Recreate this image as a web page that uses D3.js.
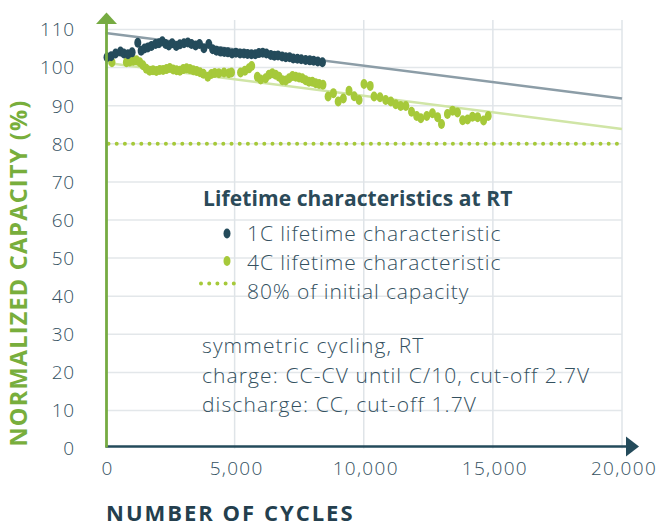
<!DOCTYPE html>
<html>
<head>
<meta charset="utf-8">
<script src="https://cdn.jsdelivr.net/npm/d3@7"></script>
<style>
  body { margin: 0; background: #fff; }
  svg text { font-family: "Open Sans", Lato, sans-serif; }
</style>
</head>
<body>
<div id="chart"></div>
<script>
// 1C cycling, dark markers
var cycles1C = [60, 220, 390, 580, 710, 870, 1030, 1250, 1380, 1510, 1640, 1780, 1940, 2070, 2200, 2330, 2450, 2580, 2740, 2880,
  3040, 3190, 3330, 3490, 3640, 3810, 4000, 4150, 4300, 4460, 4600, 4740, 4900, 5050, 5210, 5360, 5500, 5650, 5800, 5940,
  6090, 6230, 6400, 6540, 6680, 6840, 6980, 7130, 7270, 7430, 7580, 7750, 7910, 8060, 8220, 8400];
var capacity1C = [102.7, 103.0, 103.7, 104.2, 103.7, 103.5, 104.0, 106.5, 104.4, 105.0, 105.3, 105.7, 106.2, 106.4, 106.9, 106.2, 105.8, 106.4, 105.7, 106.1,
  106.4, 106.6, 106.2, 105.8, 106.2, 105.1, 106.2, 104.8, 104.4, 104.2, 104.1, 104.0, 103.7, 103.9, 103.7, 103.7, 103.6, 103.5, 103.5, 103.8,
  103.9, 103.7, 103.3, 103.1, 103.2, 102.9, 102.7, 102.7, 102.4, 102.3, 102.2, 102.0, 101.9, 101.8, 101.6, 101.4];

// 4C cycling, green markers
var cycles4C = [250, 810, 940, 1070, 1200, 1330, 1450, 1580, 1710, 1840, 1970, 2100, 2230, 2360, 2490, 2620, 2750, 2880, 3010, 3140,
  3270, 3400, 3530, 3660, 3790, 3960, 4100, 4230, 4390, 4590, 4780, 4880, 5230, 5400, 5555, 5660, 5880, 6010, 6200, 6330,
  6460, 6590, 6720, 6850, 6980, 7110, 7240, 7365, 7495, 7620, 7750, 7880, 8010, 8140, 8270, 8420, 8620, 8825, 9010, 9210,
  9430, 9630, 9820, 10010, 10250, 10400, 10630, 10850, 11050, 11240, 11430, 11630, 11850, 12050, 12210, 12440, 12660, 12860, 13010, 13240,
  13440, 13630, 13830, 14020, 14210, 14410, 14640, 14820];
var capacity4C = [101.4, 101.4, 101.6, 101.8, 101.9, 101.4, 100.6, 99.7, 99.2, 99.3, 99.1, 99.4, 99.4, 99.6, 99.9, 99.5, 99.3, 99.2, 99.6, 99.8,
  99.6, 99.3, 99.1, 98.8, 98.4, 97.6, 98.3, 98.6, 98.5, 98.7, 98.5, 98.7, 98.7, 99.2, 99.8, 100.4, 97.6, 96.9, 97.2, 98.1,
  98.5, 98.1, 97.6, 96.7, 96.6, 97.2, 97.8, 97.6, 97.4, 97.2, 96.7, 96.3, 96.3, 95.9, 95.7, 95.5, 92.4, 93.3, 91.1, 91.9,
  93.9, 92.5, 91.5, 95.7, 95.2, 92.4, 92.2, 91.5, 91.1, 90.4, 89.9, 89.9, 88.4, 87.3, 86.7, 87.3, 88.0, 87.0, 85.2, 87.8,
  88.7, 88.2, 86.2, 86.4, 87.1, 87.0, 86.1, 87.3];

// linear trends (start, end) at 0 and 20,000 cycles
var trendCycles = [0, 20000];
var trend1C = [109.1, 91.9];
var trend4C = [101.3, 83.9];
var limitLevel = 80;

var xTicks = [0, 5000, 10000, 15000, 20000];
var yTicks = [0, 10, 20, 30, 40, 50, 60, 70, 80, 90, 100, 110];

var legendTitle = 'Lifetime characteristics at RT';
var legendLabels = ['1C lifetime characteristic', '4C lifetime characteristic', '80% of initial capacity'];
var notes = ['symmetric cycling, RT', 'charge: CC-CV until C/10, cut-off 2.7V', 'discharge: CC, cut-off 1.7V'];

var width = 670, height = 526;
var navy = '#244b5b', green = '#a6c93a', axisGreen = '#76ab42', textCol = '#34515f';

var svg = d3.select('#chart').append('svg')
  .attr('width', width)
  .attr('height', height);

var xScale = d3.scaleLinear().domain([0, 20000]).range([105.5, 622]);
var yScale = d3.scaleLinear().domain([0, 110]).range([448.6, 29.5]);

// grid
svg.append('g').selectAll('line.h')
  .data(yTicks.filter(d => d > 0))
  .enter().append('line')
  .attr('x1', xScale(0)).attr('x2', xScale(20000))
  .attr('y1', d => yScale(d)).attr('y2', d => yScale(d))
  .attr('stroke', '#e3e7ea').attr('stroke-width', 1.5);

svg.append('g').selectAll('line.v')
  .data(xTicks.filter(d => d > 0))
  .enter().append('line')
  .attr('x1', d => xScale(d)).attr('x2', d => xScale(d))
  .attr('y1', yScale(0)).attr('y2', 20)
  .attr('stroke', '#dfe4e8').attr('stroke-width', 1.5);

// trend lines
var line = d3.line().x(d => xScale(d[0])).y(d => yScale(d[1]));
svg.append('path')
  .datum(d3.zip(trendCycles, trend1C))
  .attr('d', line).attr('fill', 'none')
  .attr('stroke', '#8c9da7').attr('stroke-width', 2.5);
svg.append('path')
  .datum(d3.zip(trendCycles, trend4C))
  .attr('d', line).attr('fill', 'none')
  .attr('stroke', '#d0e5a6').attr('stroke-width', 2.5);

// 80% line
svg.append('line')
  .attr('x1', xScale(0) + 3).attr('x2', xScale(20000))
  .attr('y1', yScale(limitLevel)).attr('y2', yScale(limitLevel))
  .attr('stroke', green).attr('stroke-width', 4)
  .attr('stroke-linecap', 'round')
  .attr('stroke-dasharray', '0 8.2');

// markers
svg.append('g').selectAll('ellipse')
  .data(d3.zip(cycles4C, capacity4C))
  .enter().append('ellipse')
  .attr('cx', d => xScale(d[0])).attr('cy', d => yScale(d[1]))
  .attr('rx', 3.5).attr('ry', 5)
  .attr('fill', green);

svg.append('g').selectAll('ellipse')
  .data(d3.zip(cycles1C, capacity1C))
  .enter().append('ellipse')
  .attr('cx', d => xScale(d[0])).attr('cy', d => yScale(d[1]))
  .attr('rx', 3.5).attr('ry', 5)
  .attr('fill', navy);

// axes
var axisY = 446.5;
svg.append('line')
  .attr('x1', xScale(0)).attr('x2', 628)
  .attr('y1', axisY).attr('y2', axisY)
  .attr('stroke', navy).attr('stroke-width', 2.5);
svg.append('path')
  .attr('d', 'M626,' + (axisY - 10) + 'L639,' + axisY + 'L626,' + (axisY + 10) + 'Z')
  .attr('fill', navy);

svg.append('line')
  .attr('x1', xScale(0) + 1).attr('x2', xScale(0) + 1)
  .attr('y1', axisY + 1).attr('y2', 22)
  .attr('stroke', axisGreen).attr('stroke-width', 2.8);
svg.append('path')
  .attr('d', 'M' + (xScale(0) - 9.5) + ',24L' + (xScale(0) + 1) + ',12.5L' + (xScale(0) + 11.5) + ',24Z')
  .attr('fill', axisGreen);

// tick labels
svg.append('g').selectAll('text')
  .data(yTicks)
  .enter().append('text')
  .attr('x', 75).attr('y', d => yScale(d))
  .attr('dy', '0.36em')
  .attr('text-anchor', 'end')
  .attr('fill', textCol)
  .style('font-size', '19px').style('font-weight', 300)
  .style('letter-spacing', '0.8px')
  .text(d => d);

svg.append('g').selectAll('text')
  .data(xTicks)
  .enter().append('text')
  .attr('x', d => xScale(d) + 2).attr('y', 475)
  .attr('text-anchor', 'middle')
  .attr('fill', textCol)
  .style('font-size', '19px').style('font-weight', 300)
  .style('letter-spacing', '1.3px')
  .text(d => d3.format(',')(d));

// axis titles
svg.append('text')
  .attr('transform', 'translate(27,273) rotate(-90)')
  .attr('text-anchor', 'middle')
  .attr('fill', '#78ae3c')
  .style('font-size', '23.5px').style('font-weight', 700)
  .style('letter-spacing', '1.2px')
  .text('NORMALIZED CAPACITY (%)');

svg.append('text')
  .attr('x', 106).attr('y', 521)
  .attr('fill', '#243f4e')
  .style('font-size', '22px').style('font-weight', 700)
  .style('letter-spacing', '2px')
  .text('NUMBER OF CYCLES');

// legend
var lg = svg.append('g');
lg.append('text')
  .attr('x', 203).attr('y', 206)
  .attr('fill', '#2b4a59')
  .style('font-size', '21px').style('font-weight', 700)
  .style('letter-spacing', '0.1px')
  .text(legendTitle);

lg.selectAll('text.item')
  .data(legendLabels)
  .enter().append('text')
  .attr('x', 247).attr('y', (d, i) => 241 + i * 29)
  .attr('fill', textCol)
  .style('font-size', '21px').style('font-weight', 300)
  .style('letter-spacing', '0.9px')
  .text(d => d);

lg.append('ellipse').attr('cx', 227).attr('cy', 233.5).attr('rx', 3.5).attr('ry', 5).attr('fill', navy);
lg.append('ellipse').attr('cx', 227).attr('cy', 261).attr('rx', 3.5).attr('ry', 5).attr('fill', green);
lg.append('line')
  .attr('x1', 201).attr('x2', 240).attr('y1', 283.5).attr('y2', 283.5)
  .attr('stroke', green).attr('stroke-width', 4)
  .attr('stroke-linecap', 'round').attr('stroke-dasharray', '0 8.2');

// notes
svg.append('g').selectAll('text')
  .data(notes)
  .enter().append('text')
  .attr('x', 202).attr('y', (d, i) => 353 + i * 29.5)
  .attr('fill', textCol)
  .style('font-size', '21px').style('font-weight', 300)
  .style('letter-spacing', '1.1px')
  .text(d => d);
</script>
</body>
</html>
